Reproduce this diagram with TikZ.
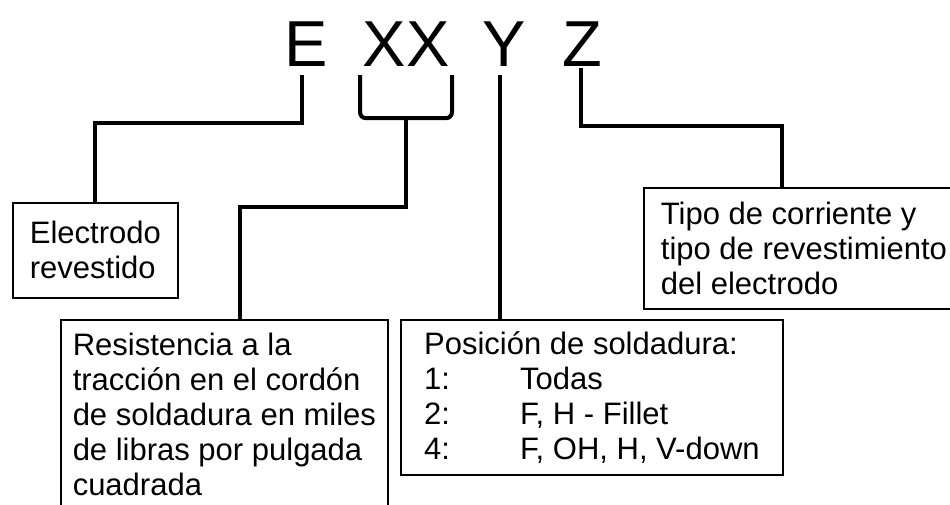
\documentclass[tikz,border=0pt]{standalone}
\usepackage{fontspec}
\setmainfont{Liberation Sans}
\usetikzlibrary{positioning}

\begin{document}
\begin{tikzpicture}[
        x=1pt, y=-1pt,
        code/.style={inner sep=0pt, anchor=base, font=\fontsize{65}{70}\selectfont},
        infobox/.style={draw, line width=1.8pt, anchor=north west, inner sep=0pt, align=left, font=\fontsize{31}{35}\selectfont},
        link/.style={line width=4pt},
    ]
    \useasboundingbox (0,0) rectangle (950,505);
    % electrode code
    \node[code] (lE) at (306,67) {E};
    \node[code] (lXX) at (406,67) {XX};
    \node[code] (lY) at (504,67) {Y};
    \node[code] (lZ) at (582,67) {Z};
    % meaning of each part
    \node[infobox, minimum width=165pt, minimum height=95pt] (elec) at (12,202) {Electrodo\\revestido};
    \node[infobox, minimum width=327pt, minimum height=190pt] (resis) at (60,319) {Resistencia a la\\tracción en el cordón\\de soldadura en miles\\de libras por pulgada\\cuadrada};
    \node[infobox, minimum width=382pt, minimum height=155pt] (posic) at (400,319) {Posición de soldadura:\\\makebox[96pt][l]{1:}Todas\\\makebox[96pt][l]{2:}F, H - Fillet\\\makebox[96pt][l]{4:}F, OH, H, V-down};
    \node[infobox, minimum width=320pt, minimum height=121pt] (tipo) at (643,187) {Tipo de corriente y\\tipo de revestimiento\\del electrodo};
    % leaders
    \draw[link] ([xshift=-4pt,yshift=-8pt]lE.south) -- ++(0,48) -| (elec.north);
    \draw[link, rounded corners=6pt] ([xshift=-46pt,yshift=-8pt]lXX.south) |- ([yshift=-51pt]lXX.south) -| ([xshift=46pt,yshift=-8pt]lXX.south);
    \draw[link] ([yshift=-51pt]lXX.south) -- ++(0,89) -| ([xshift=180pt]resis.north west);
    \coordinate (ytop) at ([xshift=-4pt,yshift=-8pt]lY.south);
    \draw[link] (ytop) -- (ytop |- posic.north);
    \draw[link] ([xshift=-1pt,yshift=-1pt]lZ.south) -- ++(0,58) -| ([xshift=139pt]tipo.north west);
\end{tikzpicture}
\end{document}
